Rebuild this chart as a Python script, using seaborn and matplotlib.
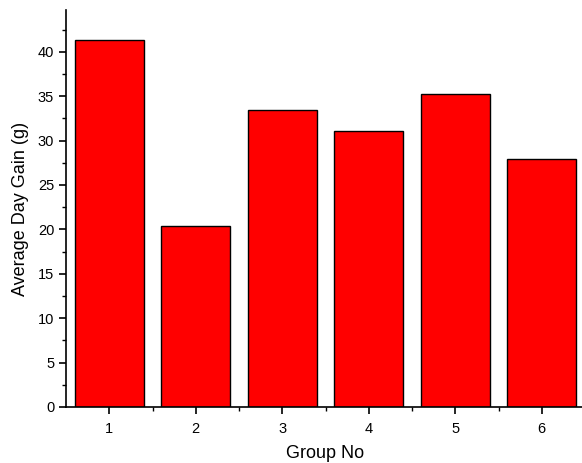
import matplotlib
matplotlib.use("Agg")
import matplotlib.pyplot as plt
import seaborn as sns
import pandas as pd
from matplotlib.ticker import MultipleLocator, FixedLocator

groups = ["1", "2", "3", "4", "5", "6"]
gain = [41.3, 20.35, 33.45, 31.1, 35.25, 27.95]

sns.set_style("ticks", {"text.color": "black", "axes.labelcolor": "black",
                        "xtick.color": "black", "ytick.color": "black"})
plt.rcParams['font.family'] = ['Liberation Sans', 'DejaVu Sans']

df = pd.DataFrame({"group": groups, "gain": gain})

fig = plt.figure(figsize=(5.82, 4.63), dpi=100)
ax = fig.add_axes([66 / 582, 56 / 463, 519 / 582, 397 / 463])
sns.barplot(data=df, x="group", y="gain", color="#ff0000", saturation=1,
            edgecolor="black", linewidth=1.0, width=0.8, ax=ax)

ax.set_xlim(-0.5, 5.5)
ax.set_ylim(0, 44.7)
ax.yaxis.set_major_locator(MultipleLocator(5))
ax.yaxis.set_minor_locator(MultipleLocator(2.5))
ax.xaxis.set_minor_locator(FixedLocator([0.5, 1.5, 2.5, 3.5, 4.5]))
ax.tick_params(which="major", length=5, width=1.2, labelsize=10.5, color="black")
ax.tick_params(axis="x", which="major", pad=6)
ax.tick_params(which="minor", length=3, width=1.0, color="black")
ax.set_xlabel("Group No", fontsize=13, labelpad=6)
ax.set_ylabel("Average Day Gain (g)", fontsize=13, labelpad=6)
sns.despine(ax=ax)
for s in ["left", "bottom"]:
    ax.spines[s].set_linewidth(1.2)
    ax.spines[s].set_color("black")

fig.savefig("out.png", dpi=100)
